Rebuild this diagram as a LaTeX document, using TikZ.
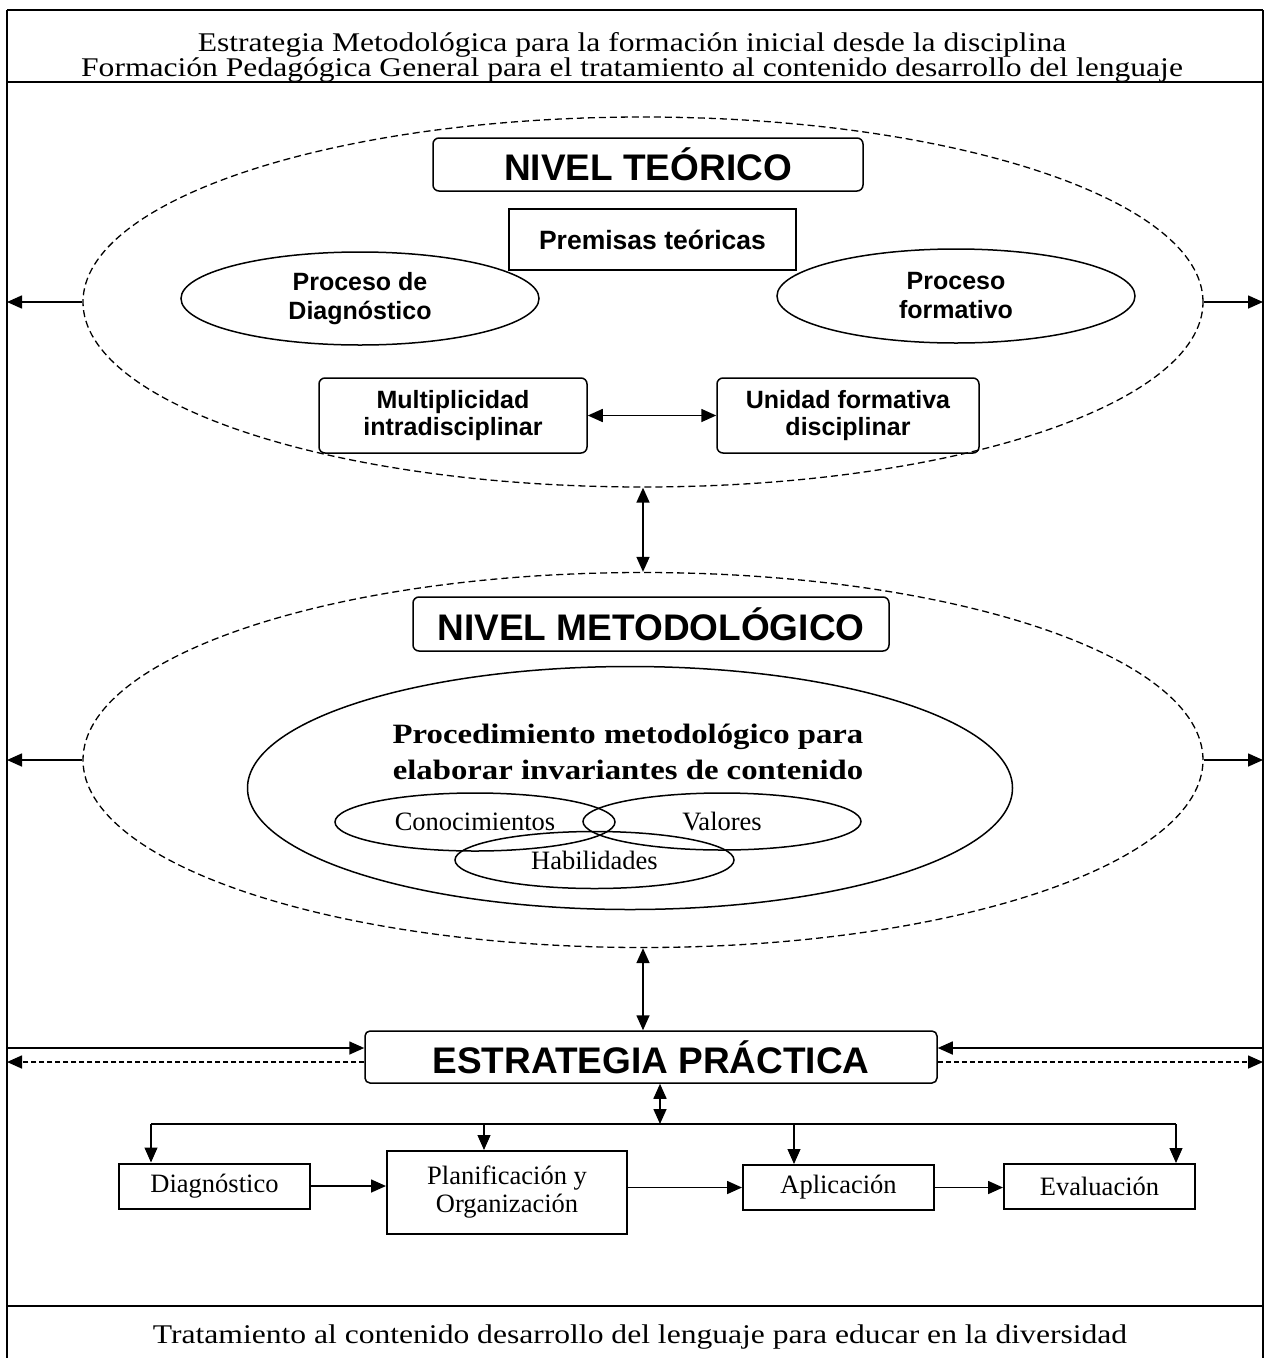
\documentclass[tikz,border=0pt]{standalone}
\usepackage{fontspec}
\setmainfont{Liberation Serif}
\setsansfont{Liberation Sans}
\newfontfamily\wideserif{Liberation Serif}[FakeStretch=1.17]
\usepackage{tikz}
\usetikzlibrary{arrows.meta, shapes.geometric, positioning}

\begin{document}
\begin{tikzpicture}[
    x=1pt, y=-1pt,
    every node/.style={inner sep=0pt},
    >={Triangle[length=15pt, width=13pt]},
    rim/.style={line width=1.3pt},
    band/.style={line width=2.5pt},
    arrowline/.style={line width=1.6pt},
    thinline/.style={line width=1.1pt},
    tier/.style={draw, rounded corners=6pt, line width=1.5pt, font=\sffamily\bfseries\fontsize{37}{40}\selectfont},
    zone/.style={ellipse, draw, dash pattern=on 7pt off 4pt, line width=1.3pt},
    idea/.style={ellipse, draw, line width=1.5pt, align=center, font=\sffamily\bfseries\fontsize{25}{29}\selectfont},
    tag/.style={draw, line width=1.5pt, align=center, font=\sffamily\bfseries\fontsize{25}{27}\selectfont},
    part/.style={ellipse, draw, line width=1.5pt, font=\fontsize{26.5}{28}\selectfont},
    stage/.style={draw, line width=2pt, align=center, font=\fontsize{26.5}{28}\selectfont}
]
    \useasboundingbox (0,0) rectangle (1264,1358);

    % Frame
    \draw[rim] (7,10) -- (7,1362);
    \draw[rim] (1263,10) -- (1263,1362);
    \draw[band] (7,10) -- (1263,10);
    \draw[band] (7,82) -- (1263,82);
    \draw[band] (7,1306) -- (1263,1306);

    \node[align=center, font=\wideserif\fontsize{27}{25}\selectfont] (head) at (632,57)
        {Estrategia Metodológica para la formación inicial desde la disciplina\\
         Formación Pedagógica General para el tratamiento al contenido desarrollo del lenguaje};
    \node[font=\wideserif\fontsize{27}{25}\selectfont] (foot) at (640,1337)
        {Tratamiento al contenido desarrollo del lenguaje para educar en la diversidad};

    % Border points
    \coordinate (tl) at (7,302);
    \coordinate (tr) at (1263,302);
    \coordinate (ml) at (7,760);
    \coordinate (mr) at (1263,760);
    \coordinate (sl) at (7,1048);
    \coordinate (sr) at (1263,1048);
    \coordinate (dl) at (7,1062);
    \coordinate (dr) at (1263,1062);

    % Nivel teorico
    \node[zone, minimum width=1120pt, minimum height=370pt] (theo) at (643,302) {};
    \node[tier, minimum width=430pt, minimum height=53pt] (nt) at (648,164.5) {NIVEL TEÓRICO};
    \node[tag, font=\sffamily\bfseries\fontsize{26.5}{27}\selectfont, minimum width=287pt, minimum height=61pt]
        (prem) at (652.5,239.5) {Premisas teóricas};
    \node[idea, minimum width=358pt, minimum height=93pt] (diagp) at (360,298.5) {Proceso de\\Diagnóstico};
    \node[idea, minimum width=358pt, minimum height=94pt] (form) at (956,296) {Proceso\\formativo};
    \node[tag, rounded corners=6pt, minimum width=268pt, minimum height=75pt] (multi) at (453,415.5)
        {Multiplicidad\\intradisciplinar};
    \node[tag, rounded corners=6pt, minimum width=262pt, minimum height=75pt] (unid) at (848,415.5)
        {Unidad formativa\\disciplinar};

    % Nivel metodologico
    \node[zone, minimum width=1120pt, minimum height=375pt] (meth) at (643,760) {};
    \node[tier, minimum width=476pt, minimum height=54pt] (nm) at (651,624) {NIVEL METODOLÓGICO};
    \node[ellipse, draw, line width=1.5pt, minimum width=765pt, minimum height=243pt] (proc) at (630,788) {};
    \node[align=center, font=\wideserif\bfseries\fontsize{28}{36}\selectfont] (proctxt) at (628,752)
        {Procedimiento metodológico para\\elaborar invariantes de contenido};
    \node[part, minimum width=280pt, minimum height=58pt] (con) at (475,822) {Conocimientos};
    \node[part, minimum width=278pt, minimum height=57pt] (val) at (722,821.5) {Valores};
    \node[part, minimum width=279pt, minimum height=57pt] (hab) at (594.5,860) {Habilidades};

    % Estrategia practica
    \node[tier, rounded corners=5pt, minimum width=572pt, minimum height=52pt] (estr) at (651,1057)
        {ESTRATEGIA PRÁCTICA};
    \coordinate (bus) at (660,1124);
    \coordinate (busl) at (151,1124);
    \coordinate (bus2) at (484,1124);
    \coordinate (bus3) at (794,1124);
    \coordinate (busr) at (1176,1124);
    \node[stage, minimum width=191pt, minimum height=45pt] (diag) at (214.5,1186) {Diagnóstico};
    \node[stage, minimum width=240pt, minimum height=83pt] (plan) at (507,1192.5) {Planificación y\\Organización};
    \node[stage, minimum width=191pt, minimum height=45pt] (apli) at (838.5,1187.5) {Aplicación};
    \node[stage, minimum width=191pt, minimum height=45pt] (eval) at (1099.5,1186.5) {Evaluación};

    % Edges
    \path[->, arrowline]
        (theo.west) edge (tl)
        (theo.east) edge (tr)
        (meth.west) edge (ml)
        (meth.east) edge (mr)
        (sl) edge (sl -| estr.west)
        (sr) edge (sr -| estr.east)
        (dl -| estr.west) edge[dash pattern=on 5pt off 3pt] (dl)
        (dr -| estr.east) edge[dash pattern=on 5pt off 3pt] (dr);
    \path[<->, arrowline]
        (multi.east) edge (unid.west)
        (theo.south) edge (meth.north)
        (meth.south) edge (meth.south |- estr.north)
        (bus |- estr.south) edge (bus);
    \draw[arrowline] (busl) -- (busr);
    \path[->, thinline]
        (busl) edge (busl |- diag.north)
        (bus2) edge (bus2 |- plan.north)
        (bus3) edge (bus3 |- apli.north)
        (busr) edge (busr |- eval.north);
    \path[->, arrowline]
        (diag.east) edge (diag.east -| plan.west)
        (plan.east |- apli.west) edge (apli.west)
        (apli.east) edge (apli.east -| eval.west);
\end{tikzpicture}
\end{document}
